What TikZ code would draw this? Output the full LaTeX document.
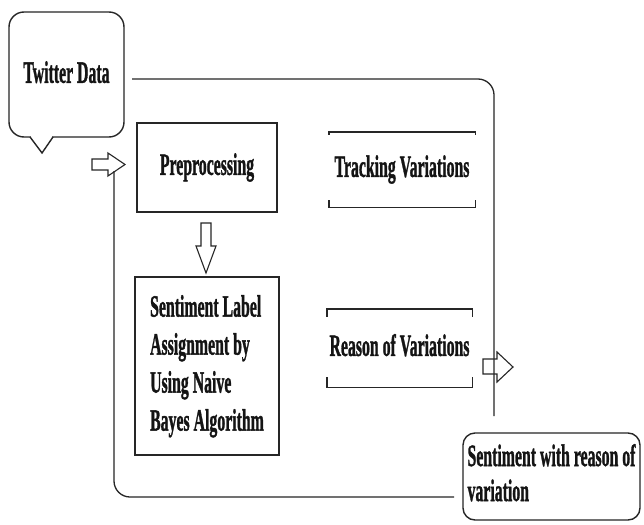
\documentclass[tikz,border=0pt]{standalone}
\usepackage{fontspec}
\usepackage{graphicx}
\setmainfont{Liberation Serif}[BoldFeatures={FakeBold=1.6}]
\newcommand\sqz[1]{\scalebox{0.51}[1]{#1}}
\tikzset{
  every node/.style={font=\bfseries\fontsize{31}{38}\selectfont, text=black!92, inner sep=0pt},
  conn/.style={draw=black!85, line width=1.3pt},
  plainbox/.style={draw=black!85, line width=1.4pt, rectangle},
  bracketbox/.style={draw=none, rectangle},
  bracketline/.style={draw=black!85, line width=1.4pt},
  blockarrow/.style={draw=black!85, line width=1.1pt, line join=miter},
}
\begin{document}
\begin{tikzpicture}[x=1pt,y=-1pt]
\useasboundingbox[fill=white] (0,0) rectangle (644,524);

% Twitter Data callout
\node[draw=black!85, line width=1.4pt, rounded corners=15, minimum width=115, minimum height=125] (tw) at (66.5,74.5) {\raisebox{5pt}{\sqz{Twitter Data}}};
\draw[white, line width=3pt] (31,137) -- (52,137);
\draw[conn, line width=1.4pt] (30,137) -- (42,153) -- (53,137);

% Preprocessing
\node[plainbox, minimum width=140, minimum height=89] (pre) at (207,167.5) {\sqz{Preprocessing}};

% Sentiment Label
\node[plainbox, minimum width=144, minimum height=178] (sla) at (207,366)
  {\raisebox{5pt}{\sqz{\begin{tabular}{@{}l@{}}Sentiment Label\\Assignment by\\Using Naive\\Bayes Algorithm\end{tabular}}}};

% Tracking Variations
\node[bracketbox, minimum width=146, minimum height=75] (trk) at (402,169.5) {\raisebox{5pt}{\sqz{Tracking Variations}}};
\draw[bracketline] ([yshift=-3pt]trk.north west) -- (trk.north west) -- (trk.north east) -- ([yshift=-3pt]trk.north east);
\draw[bracketline] ([yshift=7pt]trk.south west) -- (trk.south west) -- (trk.south east) -- ([yshift=7pt]trk.south east);

% Reason of Variations
\node[bracketbox, minimum width=145, minimum height=78] (rsn) at (399.5,348) {\raisebox{6pt}{\sqz{Reason of Variations}}};
\draw[bracketline] ([yshift=-8pt]rsn.north west) -- (rsn.north west) -- (rsn.north east) -- ([yshift=-8pt]rsn.north east);
\draw[bracketline] ([yshift=10pt]rsn.south west) -- (rsn.south west) -- (rsn.south east) -- ([yshift=10pt]rsn.south east);

% Sentiment with reason of variation
\node[draw=black!85, line width=1.4pt, rounded corners=12, minimum width=177, minimum height=87] (out) at (551.5,476.5)
  {\raisebox{4pt}{\sqz{\fontsize{31}{35}\selectfont\begin{tabular}{@{}l@{}}Sentiment with reason of\\variation\end{tabular}}}};

% loop connectors
\coordinate (loopA) at (132,79);
\coordinate (loopB) at (494,416);
\coordinate (loopC) at (454,497);
\coordinate (loopD) at (114,171);
\draw[conn, rounded corners=16] (loopA) -| (loopB);
\draw[conn, rounded corners=16] (loopC) -| (loopD);

% block arrows
\draw[blockarrow] (92,159) -- (108,159) -- (108,153) -- (125,164.5) -- (108,176) -- (108,170) -- (92,170) -- cycle;
\draw[blockarrow] (201,223) -- (211,223) -- (211,246) -- (216,246) -- (206,273) -- (196,246) -- (201,246) -- cycle;
\draw[blockarrow] (483,359) -- (497,359) -- (497,352) -- (513,367) -- (497,382) -- (497,374) -- (483,374) -- cycle;
\end{tikzpicture}
\end{document}
